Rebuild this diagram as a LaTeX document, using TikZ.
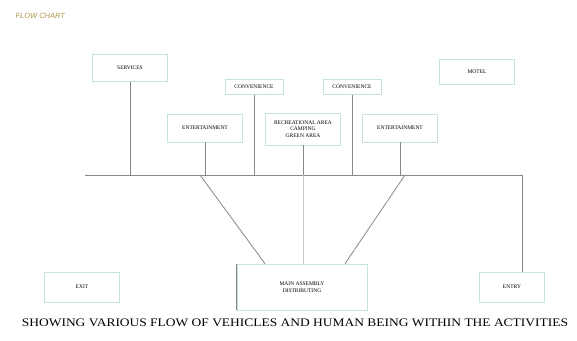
\documentclass[tikz,border=0pt]{standalone}
\usepackage{fontspec}
\setmainfont{Liberation Serif}
\newfontfamily\titlefont{Liberation Sans}
\definecolor{boxline}{RGB}{196,226,224}
\definecolor{flowline}{RGB}{135,135,135}
\definecolor{titleolive}{RGB}{170,150,70}
\tikzset{
  block/.style={draw=boxline,line width=0.7pt,fill=white,inner sep=0pt,
    align=center,font=\fontsize{5.5}{6.5}\selectfont},
  flow/.style={draw=flowline,line width=0.8pt},
  faint/.style={draw=flowline!45,line width=0.6pt}
}

\begin{document}
\begin{tikzpicture}[x=1pt,y=-1pt]
		\useasboundingbox (0,0) rectangle (577,340);
		\node[font=\titlefont\itshape\fontsize{7.5}{8}\selectfont,text=titleolive,anchor=west] (title) at (12,16) {FLOW CHART};
		% top row
		\node[block,minimum width=75pt,minimum height=27pt] (srv) at (130,68) {SERVICES};
		\node[block,minimum width=75pt,minimum height=25pt] (motel) at (477,72) {MOTEL};
		\node[block,minimum width=58pt,minimum height=15pt] (convl) at (254,87) {CONVENIENCE};
		\node[block,minimum width=58pt,minimum height=15pt] (convr) at (352,87) {CONVENIENCE};
		\node[block,minimum width=75pt,minimum height=28pt] (entl) at (205,128) {ENTERTAINMENT};
		\node[block,minimum width=75pt,minimum height=32pt] (mid) at (303,129) {RECREATIONAL AREA\\CAMPING\\GREEN AREA};
		\node[block,minimum width=75pt,minimum height=28pt] (entr) at (400,128) {ENTERTAINMENT};
		% bottom row
		\node[block,minimum width=75pt,minimum height=30pt] (exit) at (82,287) {EXIT};
		\node[block,minimum width=130pt,minimum height=46pt] (main) at (302,287) {MAIN ASSEMBLY\\DISTRIBUTING};
		\node[block,minimum width=65pt,minimum height=30pt] (entry) at (512,287) {ENTRY};
		% bus line
		\coordinate (busl) at (85,175);
		\coordinate (busr) at (522,175);
		\draw[flow] (busl) -- (busr);
		\draw[flow] (srv.south) -- (srv.south |- busl);
		\draw[flow] (convl.south) -- (convl.south |- busl);
		\draw[flow] (convr.south) -- (convr.south |- busl);
		\draw[flow] (entl.south) -- (entl.south |- busl);
		\draw[flow] (entr.south) -- (entr.south |- busl);
		\draw[flow] (mid.south) -- (mid.south |- busl);
		\draw[faint] (mid.south |- busl) -- (mid.south |- main.north);
		\draw[flow] (busr) -- (busr |- entry.north);
		% to main assembly
		\draw[flow] (200,175) -- ([xshift=-37pt]main.north);
		\draw[flow] (405,175) -- ([xshift=43pt]main.north);
		\draw[flow] (main.north west) -- (main.south west);
		\node[font=\fontsize{11.5}{13}\selectfont,xscale=1.17,anchor=center] (caption) at (295,323) {SHOWING VARIOUS FLOW OF VEHICLES AND HUMAN BEING WITHIN THE ACTIVITIES};
 	 \end{tikzpicture}
\end{document}
